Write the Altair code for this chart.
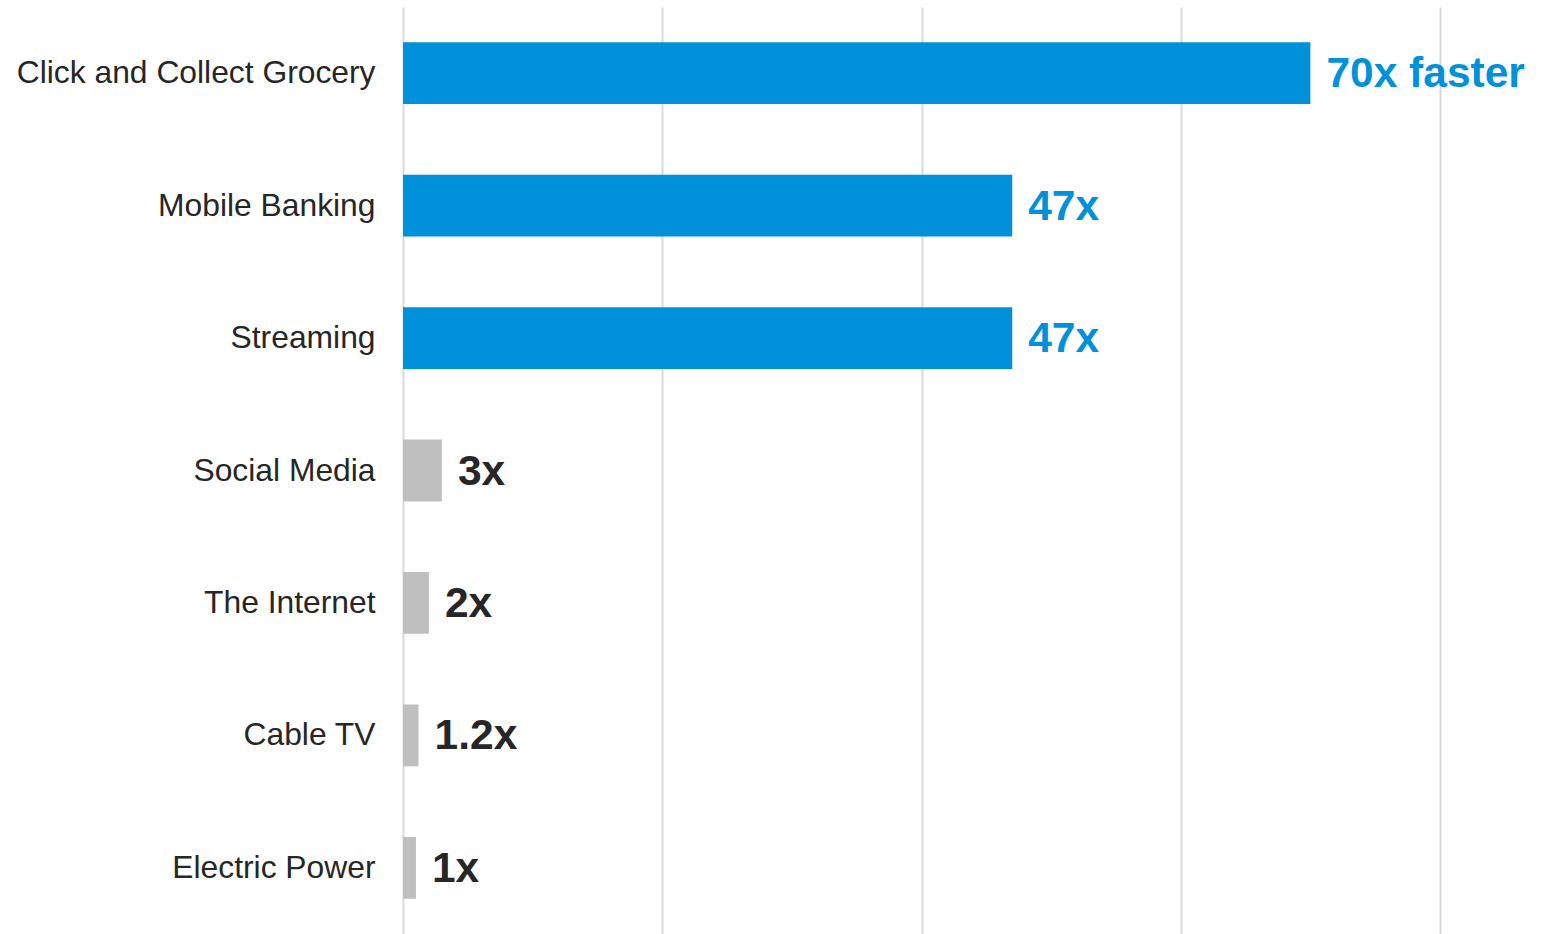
import altair as alt
import pandas as pd

categories = ["Click and Collect Grocery", "Mobile Banking", "Streaming",
              "Social Media", "The Internet", "Cable TV", "Electric Power"]
values = [70, 47, 47, 3, 2, 1.2, 1]
labels = ["70x faster", "47x", "47x", "3x", "2x", "1.2x", "1x"]
highlight = [True, True, True, False, False, False, False]

df = pd.DataFrame({"cat": categories, "val": values, "lab": labels, "hi": highlight})

BLUE = "#0091DA"
GREY = "#BFBFBF"
DARK = "#262626"

y = alt.Y("cat:N", sort=categories, title=None,
          scale=alt.Scale(paddingInner=0.533, paddingOuter=0.266),
          axis=alt.Axis(ticks=False, domain=False, grid=False, labelFontSize=31.8,
                        labelFont="Liberation Sans", labelColor=DARK,
                        labelPadding=28, labelLimit=0))
x = alt.X("val:Q", title=None, scale=alt.Scale(domain=[0, 80], nice=False),
          axis=alt.Axis(values=[0, 20, 40, 60, 80], labels=False, ticks=False,
                        domain=False, grid=True, gridColor="#D9D9D9", gridWidth=2))

bars = alt.Chart(df).mark_bar().encode(
    y=y, x=x,
    color=alt.condition("datum.hi", alt.value(BLUE), alt.value(GREY)),
)

text = alt.Chart(df).mark_text(align="left", baseline="middle", dx=16, dy=1,
                               font="Liberation Sans", fontWeight="bold",
                               fontSize=42.5).encode(
    y=alt.Y("cat:N", sort=categories),
    x=alt.X("val:Q"),
    text="lab:N",
    color=alt.condition("datum.hi", alt.value(BLUE), alt.value(DARK)),
)

chart = alt.layer(bars, text).properties(
    width=1037, height=927,
    background="white",
    autosize=alt.AutoSizeParams(type="none"),
    padding={"left": 403, "top": 7, "right": 122, "bottom": 0},
).configure_view(strokeWidth=0, stroke="transparent")

chart.save("out.html", embed_options={"renderer": "svg", "actions": False})
